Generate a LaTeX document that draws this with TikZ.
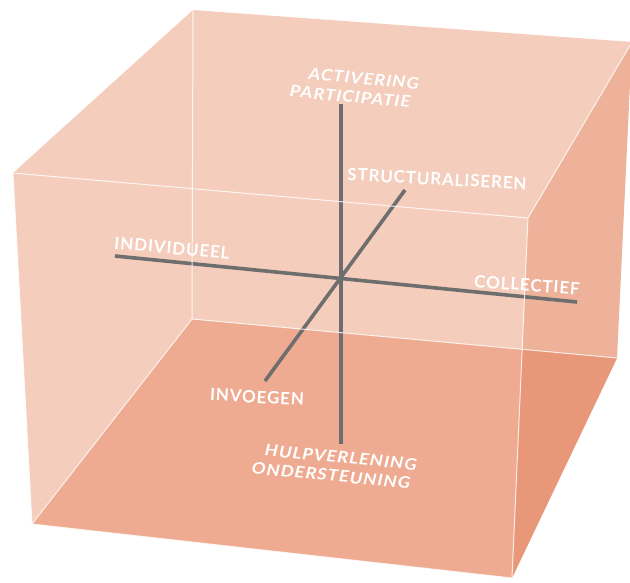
\documentclass[tikz,border=0pt]{standalone}
\usepackage{fontspec}
\setmainfont{Lato}
\newfontfamily\tagfont[LetterSpace=5]{Lato}
\newfontfamily\itagfont[LetterSpace=6, FakeStretch=1.15]{Lato}
\usetikzlibrary{positioning}

\definecolor{peach}{HTML}{F4CDBC}
\definecolor{floorpeach}{HTML}{EEAB91}
\definecolor{sidepeach}{RGB}{217,98,50}
\definecolor{axisgrey}{HTML}{6E6E6E}

\begin{document}
\begin{tikzpicture}[
    x=1pt, y=-1pt,
    edge/.style={white, line width=1pt, opacity=0.8},
    axis/.style={axisgrey, line width=3.6pt},
    tag/.style={text=white, font=\tagfont\bfseries\fontsize{17}{17}\selectfont, inner sep=0pt},
    itag/.style={tag, align=center, font=\itagfont\bfseries\itshape\fontsize{16}{19}\selectfont}
]
\useasboundingbox (0,0) rectangle (630,582);

% Corners of the box
\coordinate (btl) at (193,10);
\coordinate (btr) at (632,42);
\coordinate (bbr) at (617,358);
\coordinate (bbl) at (192,319);
\coordinate (ftl) at (13,173);
\coordinate (ftr) at (528,218);
\coordinate (fbr) at (512,578);
\coordinate (fbl) at (32,524);

% Faces
\fill[peach] (ftl) -- (btl) -- (btr) -- (bbr) -- (fbr) -- (fbl) -- cycle;
\fill[floorpeach] (bbl) -- (bbr) -- (fbr) -- (fbl) -- cycle;
\fill[sidepeach, fill opacity=0.25] (ftr) -- (btr) -- (bbr) -- (fbr) -- cycle;

% Axes
\coordinate (top) at (341,104);
\coordinate (bottom) at (341,444);
\coordinate (left) at (115,256);
\coordinate (right) at (577,302);
\coordinate (back) at (405,190);
\coordinate (front) at (265,381);
\draw[axis] (top) -- (bottom);
\draw[axis] (left) -- (right);
\draw[axis] (back) -- (front);

% Edges
\draw[edge] (ftl) -- (ftr) -- (fbr) -- (fbl) -- cycle;
\draw[edge] (btl) -- (bbl) -- (bbr);
\draw[edge] (bbl) -- (fbl);
\draw[edge] (ftr) -- (btr);

% Labels
\node[itag, rotate=-5] (activering) at (351,87) {\hspace*{24pt}ACTIVERING\\PARTICIPATIE};
\node[tag, rotate=-3] (structuraliseren) at (437,179) {STRUCTURALISEREN};
\node[tag, rotate=-5] (individueel) at (172,248) {INDIVIDUEEL};
\node[tag, rotate=-4] (collectief) at (527,285) {COLLECTIEF};
\node[tag, rotate=-3] (invoegen) at (257,397) {INVOEGEN};
\node[itag, rotate=-5.5] (hulpverlening) at (332,466) {\hspace*{16pt}HULPVERLENING\\ONDERSTEUNING};

\end{tikzpicture}
\end{document}
